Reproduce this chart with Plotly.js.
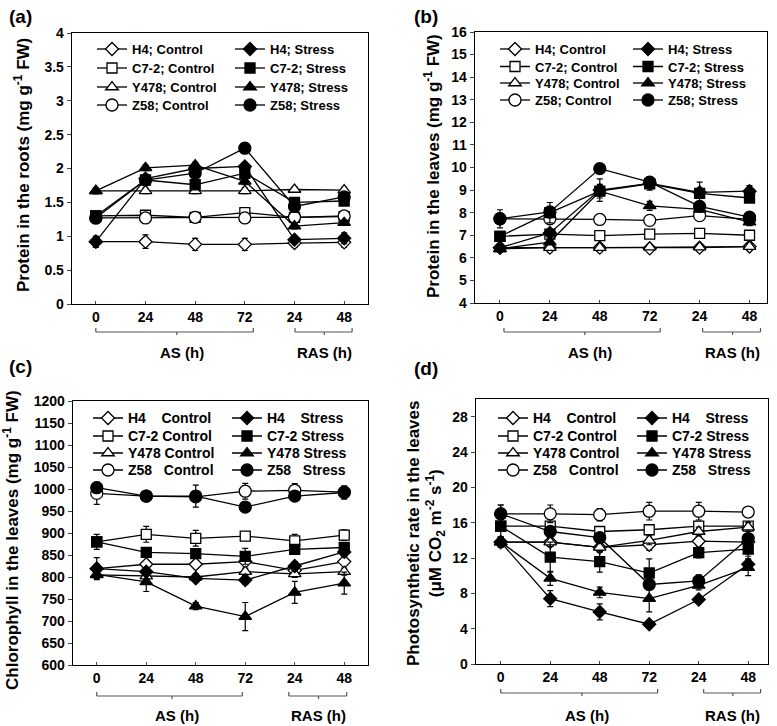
<!DOCTYPE html>
<html>
<head>
<meta charset="utf-8">
<script src="https://cdn.plot.ly/plotly-3.0.1.min.js"></script>
<style>html,body{margin:0;padding:0;background:#fff;}#chart{width:777px;height:726px;}</style>
</head>
<body>
<div id="chart"></div>
<script>
// ---------- DATA ----------
const xIdx = [0, 1, 2, 3, 4, 5];
const xLabels = ['0', '24', '48', '72', '24', '48'];
const genotypes = ['H4', 'C7-2', 'Y478', 'Z58'];

// (a) Protein in the roots
const A_H4_C = [0.92, 0.92, 0.88, 0.88, 0.90, 0.91];
const A_H4_S = [0.92, 1.85, 2.00, 2.03, 0.95, 0.97];
const A_C72_C = [1.30, 1.31, 1.28, 1.35, 1.28, 1.29];
const A_C72_S = [1.30, 1.83, 1.76, 1.93, 1.50, 1.52];
const A_Y478_C = [1.67, 1.67, 1.67, 1.67, 1.69, 1.68];
const A_Y478_S = [1.67, 2.01, 2.05, 1.81, 1.15, 1.20];
const A_Z58_C = [1.27, 1.27, 1.28, 1.27, 1.28, 1.30];
const A_Z58_S = [1.27, 1.83, 1.93, 2.30, 1.44, 1.58];
const A_H4_C_err = [0.08, 0.10, 0.09, 0.09, 0.06, 0.07];
const A_H4_S_err = [0.08, 0.05, 0.05, 0.05, 0.05, 0.08];
const A_C72_C_err = [0.04, 0.04, 0.04, 0.04, 0.04, 0.04];
const A_C72_S_err = [0.04, 0.04, 0.04, 0.04, 0.05, 0.04];
const A_Y478_C_err = [0.04, 0.04, 0.04, 0.04, 0.04, 0.04];
const A_Y478_S_err = [0.04, 0.04, 0.04, 0.05, 0.04, 0.04];
const A_Z58_C_err = [0.04, 0.04, 0.04, 0.04, 0.04, 0.04];
const A_Z58_S_err = [0.04, 0.04, 0.04, 0.04, 0.06, 0.04];

// (b) Protein in the leaves
const B_H4_C = [6.45, 6.45, 6.45, 6.42, 6.45, 6.50];
const B_H4_S = [6.45, 7.10, 9.00, 9.30, 8.90, 8.95];
const B_C72_C = [6.95, 7.05, 6.98, 7.05, 7.08, 7.00];
const B_C72_S = [6.95, 8.00, 8.95, 9.28, 8.85, 8.65];
const B_Y478_C = [6.40, 6.45, 6.45, 6.47, 6.47, 6.50];
const B_Y478_S = [6.40, 6.70, 8.95, 8.30, 8.15, 7.58];
const B_Z58_C = [7.73, 7.73, 7.70, 7.66, 7.87, 7.70];
const B_Z58_S = [7.73, 8.03, 9.95, 9.35, 8.28, 7.80];
const B_H4_C_err = [0.1, 0.1, 0.1, 0.1, 0.1, 0.1];
const B_H4_S_err = [0.05, 0.1, 0.5, 0.3, 0.45, 0.25];
const B_C72_C_err = [0.1, 0.1, 0.1, 0.1, 0.1, 0.1];
const B_C72_S_err = [0.1, 0.45, 0.3, 0.2, 0.2, 0.15];
const B_Y478_C_err = [0.1, 0.1, 0.1, 0.1, 0.1, 0.1];
const B_Y478_S_err = [0.05, 0.1, 0.1, 0.2, 0.1, 0.15];
const B_Z58_C_err = [0.1, 0.1, 0.1, 0.1, 0.1, 0.1];
const B_Z58_S_err = [0.4, 0.1, 0.15, 0.1, 0.1, 0.1];

// (c) Chlorophyll in the leaves
const C_H4_C = [819, 829, 829, 835, 815, 835];
const C_H4_S = [819, 812, 797, 793, 825, 857];
const C_C72_C = [880, 897, 888, 893, 882, 895];
const C_C72_S = [880, 856, 853, 847, 863, 867];
const C_Y478_C = [805, 802, 800, 812, 807, 812];
const C_Y478_S = [806, 789, 734, 710, 765, 786];
const C_Z58_C = [990, 984, 982, 995, 997, 993];
const C_Z58_S = [1003, 984, 984, 959, 984, 992];
const C_H4_C_err = [25, 8, 8, 8, 8, 8];
const C_H4_S_err = [10, 8, 8, 10, 10, 10];
const C_C72_C_err = [10, 18, 18, 10, 15, 12];
const C_C72_S_err = [17, 8, 8, 18, 10, 10];
const C_Y478_C_err = [8, 8, 8, 8, 8, 8];
const C_Y478_S_err = [8, 22, 8, 32, 25, 25];
const C_Z58_C_err = [25, 8, 10, 18, 15, 10];
const C_Z58_S_err = [12, 8, 25, 8, 8, 15];

// (d) Photosynthetic rate in the leaves
const D_H4_C = [13.8, 13.8, 13.2, 13.5, 13.9, 13.8];
const D_H4_S = [13.8, 7.4, 5.9, 4.5, 7.3, 11.3];
const D_C72_C = [15.6, 15.6, 15.0, 15.2, 15.6, 15.6];
const D_C72_S = [15.6, 12.1, 11.6, 10.3, 12.6, 13.0];
const D_Y478_C = [13.8, 13.8, 13.2, 14.0, 15.0, 15.5];
const D_Y478_S = [13.8, 9.7, 8.1, 7.4, 8.9, 10.9];
const D_Z58_C = [17.0, 17.0, 16.9, 17.3, 17.3, 17.2];
const D_Z58_S = [17.0, 15.0, 14.3, 9.0, 9.4, 14.2];
const D_H4_C_err = [0.5, 0.5, 0.5, 0.6, 0.5, 0.5];
const D_H4_S_err = [0.5, 0.9, 0.9, 0.3, 0.4, 0.6];
const D_C72_C_err = [0.5, 0.5, 0.5, 0.5, 0.5, 0.5];
const D_C72_S_err = [1.2, 1.7, 1.2, 1.6, 0.6, 0.8];
const D_Y478_C_err = [0.5, 0.5, 0.5, 0.5, 0.5, 0.5];
const D_Y478_S_err = [0.6, 0.8, 0.6, 1.5, 0.5, 0.9];
const D_Z58_C_err = [1.0, 1.0, 0.7, 1.0, 1.0, 0.5];
const D_Z58_S_err = [1.0, 0.5, 0.5, 0.5, 0.7, 0.5];

// ---------- STYLE / LAYOUT ----------
const W = 777, H = 726;
const FONT = 'Liberation Sans, Arial, sans-serif';
const px = v => v / W;
const py = v => 1 - v / H;
const symbols = {'H4': 'diamond', 'C7-2': 'square', 'Y478': 'triangle-up', 'Z58': 'circle'};
const msize = {'H4': 10, 'C7-2': 10, 'Y478': 11, 'Z58': 12};

const panels = [
  {xa: 'x', ya: 'y', sep: '; ', fs: 13, cols: [92, 230], rows: [49, 68, 87, 105],
   data: {H4: [A_H4_C, A_H4_S, A_H4_C_err, A_H4_S_err], 'C7-2': [A_C72_C, A_C72_S, A_C72_C_err, A_C72_S_err],
          Y478: [A_Y478_C, A_Y478_S, A_Y478_C_err, A_Y478_S_err], Z58: [A_Z58_C, A_Z58_S, A_Z58_C_err, A_Z58_S_err]}},
  {xa: 'x2', ya: 'y2', sep: '; ', fs: 13, cols: [495, 628], rows: [49, 66.5, 83, 100],
   data: {H4: [B_H4_C, B_H4_S, B_H4_C_err, B_H4_S_err], 'C7-2': [B_C72_C, B_C72_S, B_C72_C_err, B_C72_S_err],
          Y478: [B_Y478_C, B_Y478_S, B_Y478_C_err, B_Y478_S_err], Z58: [B_Z58_C, B_Z58_S, B_Z58_C_err, B_Z58_S_err]}},
  {xa: 'x3', ya: 'y3', sep: null, fs: 14, cols: [88, 227], rows: [418, 436, 453, 470],
   data: {H4: [C_H4_C, C_H4_S, C_H4_C_err, C_H4_S_err], 'C7-2': [C_C72_C, C_C72_S, C_C72_C_err, C_C72_S_err],
          Y478: [C_Y478_C, C_Y478_S, C_Y478_C_err, C_Y478_S_err], Z58: [C_Z58_C, C_Z58_S, C_Z58_C_err, C_Z58_S_err]}},
  {xa: 'x4', ya: 'y4', sep: null, fs: 14, cols: [493, 632], rows: [418, 436, 453, 470],
   data: {H4: [D_H4_C, D_H4_S, D_H4_C_err, D_H4_S_err], 'C7-2': [D_C72_C, D_C72_S, D_C72_C_err, D_C72_S_err],
          Y478: [D_Y478_C, D_Y478_S, D_Y478_C_err, D_Y478_S_err], Z58: [D_Z58_C, D_Z58_S, D_Z58_C_err, D_Z58_S_err]}}
];

const NB = '\u00a0';
const padNames = {'H4': 'H4' + NB.repeat(4), 'C7-2': 'C7-2 ', 'Y478': 'Y478 ', 'Z58': 'Z58' + NB.repeat(3)};

const layout = {
  width: W, height: H, margin: {l: 0, r: 0, t: 0, b: 0},
  paper_bgcolor: '#fff', plot_bgcolor: '#fff',
  font: {family: FONT, color: '#000', weight: 'bold'},
  showlegend: true
};

const traces = [];
let legendCount = 0;
function legendFor(p, col, row) {
  legendCount += 1;
  const id = legendCount === 1 ? 'legend' : 'legend' + legendCount;
  const off = 5 + (p.fs * 1.3 + 3) / 2;
  layout[id] = {x: px(p.cols[col]), y: py(p.rows[row] - off), xanchor: 'left', yanchor: 'top',
    bgcolor: 'rgba(0,0,0,0)', borderwidth: 0,
    font: {family: FONT, size: p.fs, color: '#000', weight: 'bold'}};
  return id;
}

function mkTrace(p, g, gi, stress) {
  const d = p.data[g];
  const name = p.sep ? g + p.sep + (stress ? 'Stress' : 'Control')
                     : padNames[g] + (stress ? 'Stress' : 'Control');
  return {
    type: 'scatter', mode: 'lines+markers',
    x: xIdx, y: stress ? d[1] : d[0],
    xaxis: p.xa, yaxis: p.ya, name: name, legend: legendFor(p, stress ? 1 : 0, gi),
    line: {color: '#000', width: 1.3},
    marker: {symbol: symbols[g], size: msize[g], color: stress ? '#000' : '#fff', line: {color: '#000', width: 1.3}},
    error_y: {type: 'data', array: stress ? d[3] : d[2], visible: true, color: '#000', thickness: 1.2, width: 3}
  };
}

panels.forEach(p => {
  genotypes.forEach((g, i) => traces.push(mkTrace(p, g, i, false)));
  genotypes.forEach((g, i) => traces.push(mkTrace(p, g, i, true)));
});

const tickFont = {family: FONT, size: 14, color: '#000', weight: 'bold'};
function xAxis(dom, rng, anchor) {
  return {domain: dom, range: rng, anchor: anchor, tickvals: xIdx, ticktext: xLabels, ticks: 'inside', ticklen: 3, tickwidth: 1,
          showline: true, mirror: true, linecolor: '#000', linewidth: 1.3, showgrid: false, zeroline: false,
          tickfont: tickFont, fixedrange: true};
}
function yAxis(dom, rng, dt, anchor) {
  return {domain: dom, range: rng, anchor: anchor, dtick: dt, tick0: 0, ticks: 'outside', ticklen: 4, tickwidth: 1,
          showline: true, mirror: true, linecolor: '#000', linewidth: 1.3, showgrid: false, zeroline: false,
          tickfont: tickFont, fixedrange: true};
}
layout.xaxis = xAxis([px(72), px(368)], [-0.48, 5.48], 'y');
layout.yaxis = yAxis([py(304), py(33)], [0, 4], 0.5, 'x');
layout.xaxis2 = xAxis([px(475), px(767)], [-0.5, 5.35], 'y2');
layout.yaxis2 = yAxis([py(303), py(32)], [4, 16], 1, 'x2');
layout.xaxis3 = xAxis([px(73), px(368)], [-0.48, 5.48], 'y3');
layout.yaxis3 = yAxis([py(665), py(401)], [600, 1200], 50, 'x3');
layout.xaxis4 = xAxis([px(476), px(768)], [-0.5, 5.4], 'y4');
layout.yaxis4 = yAxis([py(664), py(399)], [0, 30], 4, 'x4');

const annotations = [];
function ann(text, x, y, size, extra) {
  annotations.push(Object.assign({text: text, xref: 'paper', yref: 'paper', x: px(x), y: py(y), showarrow: false,
    xanchor: 'center', yanchor: 'middle', font: {family: FONT, size: size, color: '#000', weight: 'bold'}}, extra || {}));
}
// panel labels
ann('(a)', 20, 16, 19);
ann('(b)', 426, 16, 19);
ann('(c)', 20, 367, 19);
ann('(d)', 426, 368, 19);
// y titles
ann('Protein in the roots (mg g<sup>-1</sup> FW)', 22, 165, 17, {textangle: -90});
ann('Protein in the leaves (mg g<sup>-1</sup> FW)', 432, 166, 17, {textangle: -90});
ann('Chlorophyll in the leaves (mg g<sup>-1</sup> FW)', 11, 540, 17, {textangle: -90});
ann('Photosynthetic rate in the leaves<br>(μM CO<sub>2</sub> m<sup>-2</sup> s<sup>-1</sup>)', 426, 534, 17, {textangle: -90});

// brackets: [xaxis, AS x0, AS x1, AS center, RAS x0, RAS x1, RAS center, line y(px), label y(px)]
const brackets = [
  ['x', 0, 3.17, 1.63, 4.01, 5.16, 4.6, 332, 352],
  ['x2', 0.08, 3.21, 1.7, 4.06, 5.22, 4.66, 332, 352],
  ['x3', 0, 2.94, 1.52, 3.88, 5.05, 4.48, 696, 715],
  ['x4', 0, 3.17, 1.64, 4.1, 5.25, 4.69, 693, 715]
];
const shapes = [];
const ln = {color: '#555', width: 1.2};
brackets.forEach(b => {
  const [xr, a0, a1, ac, r0, r1, rc, ly, ty] = b;
  [[a0, a1, ac], [r0, r1, rc]].forEach(([s0, s1, sc]) => {
    shapes.push({type: 'line', xref: xr, yref: 'paper', x0: s0, x1: s1, y0: py(ly), y1: py(ly), line: ln});
    shapes.push({type: 'line', xref: xr, yref: 'paper', x0: s0, x1: s0, y0: py(ly), y1: py(ly - 4), line: ln});
    shapes.push({type: 'line', xref: xr, yref: 'paper', x0: s1, x1: s1, y0: py(ly), y1: py(ly - 4), line: ln});
    shapes.push({type: 'line', xref: xr, yref: 'paper', x0: sc, x1: sc, y0: py(ly), y1: py(ly + 3), line: ln});
  });
  annotations.push({text: 'AS (h)', xref: xr, yref: 'paper', x: ac + 0.1, y: py(ty), showarrow: false,
    xanchor: 'center', yanchor: 'middle', font: {family: FONT, size: 15, color: '#000', weight: 'bold'}});
  annotations.push({text: 'RAS (h)', xref: xr, yref: 'paper', x: rc, y: py(ty), showarrow: false,
    xanchor: 'center', yanchor: 'middle', font: {family: FONT, size: 15, color: '#000', weight: 'bold'}});
});
layout.annotations = annotations;
layout.shapes = shapes;

Plotly.newPlot('chart', traces, layout, {displayModeBar: false, staticPlot: true});
</script>
</body>
</html>
